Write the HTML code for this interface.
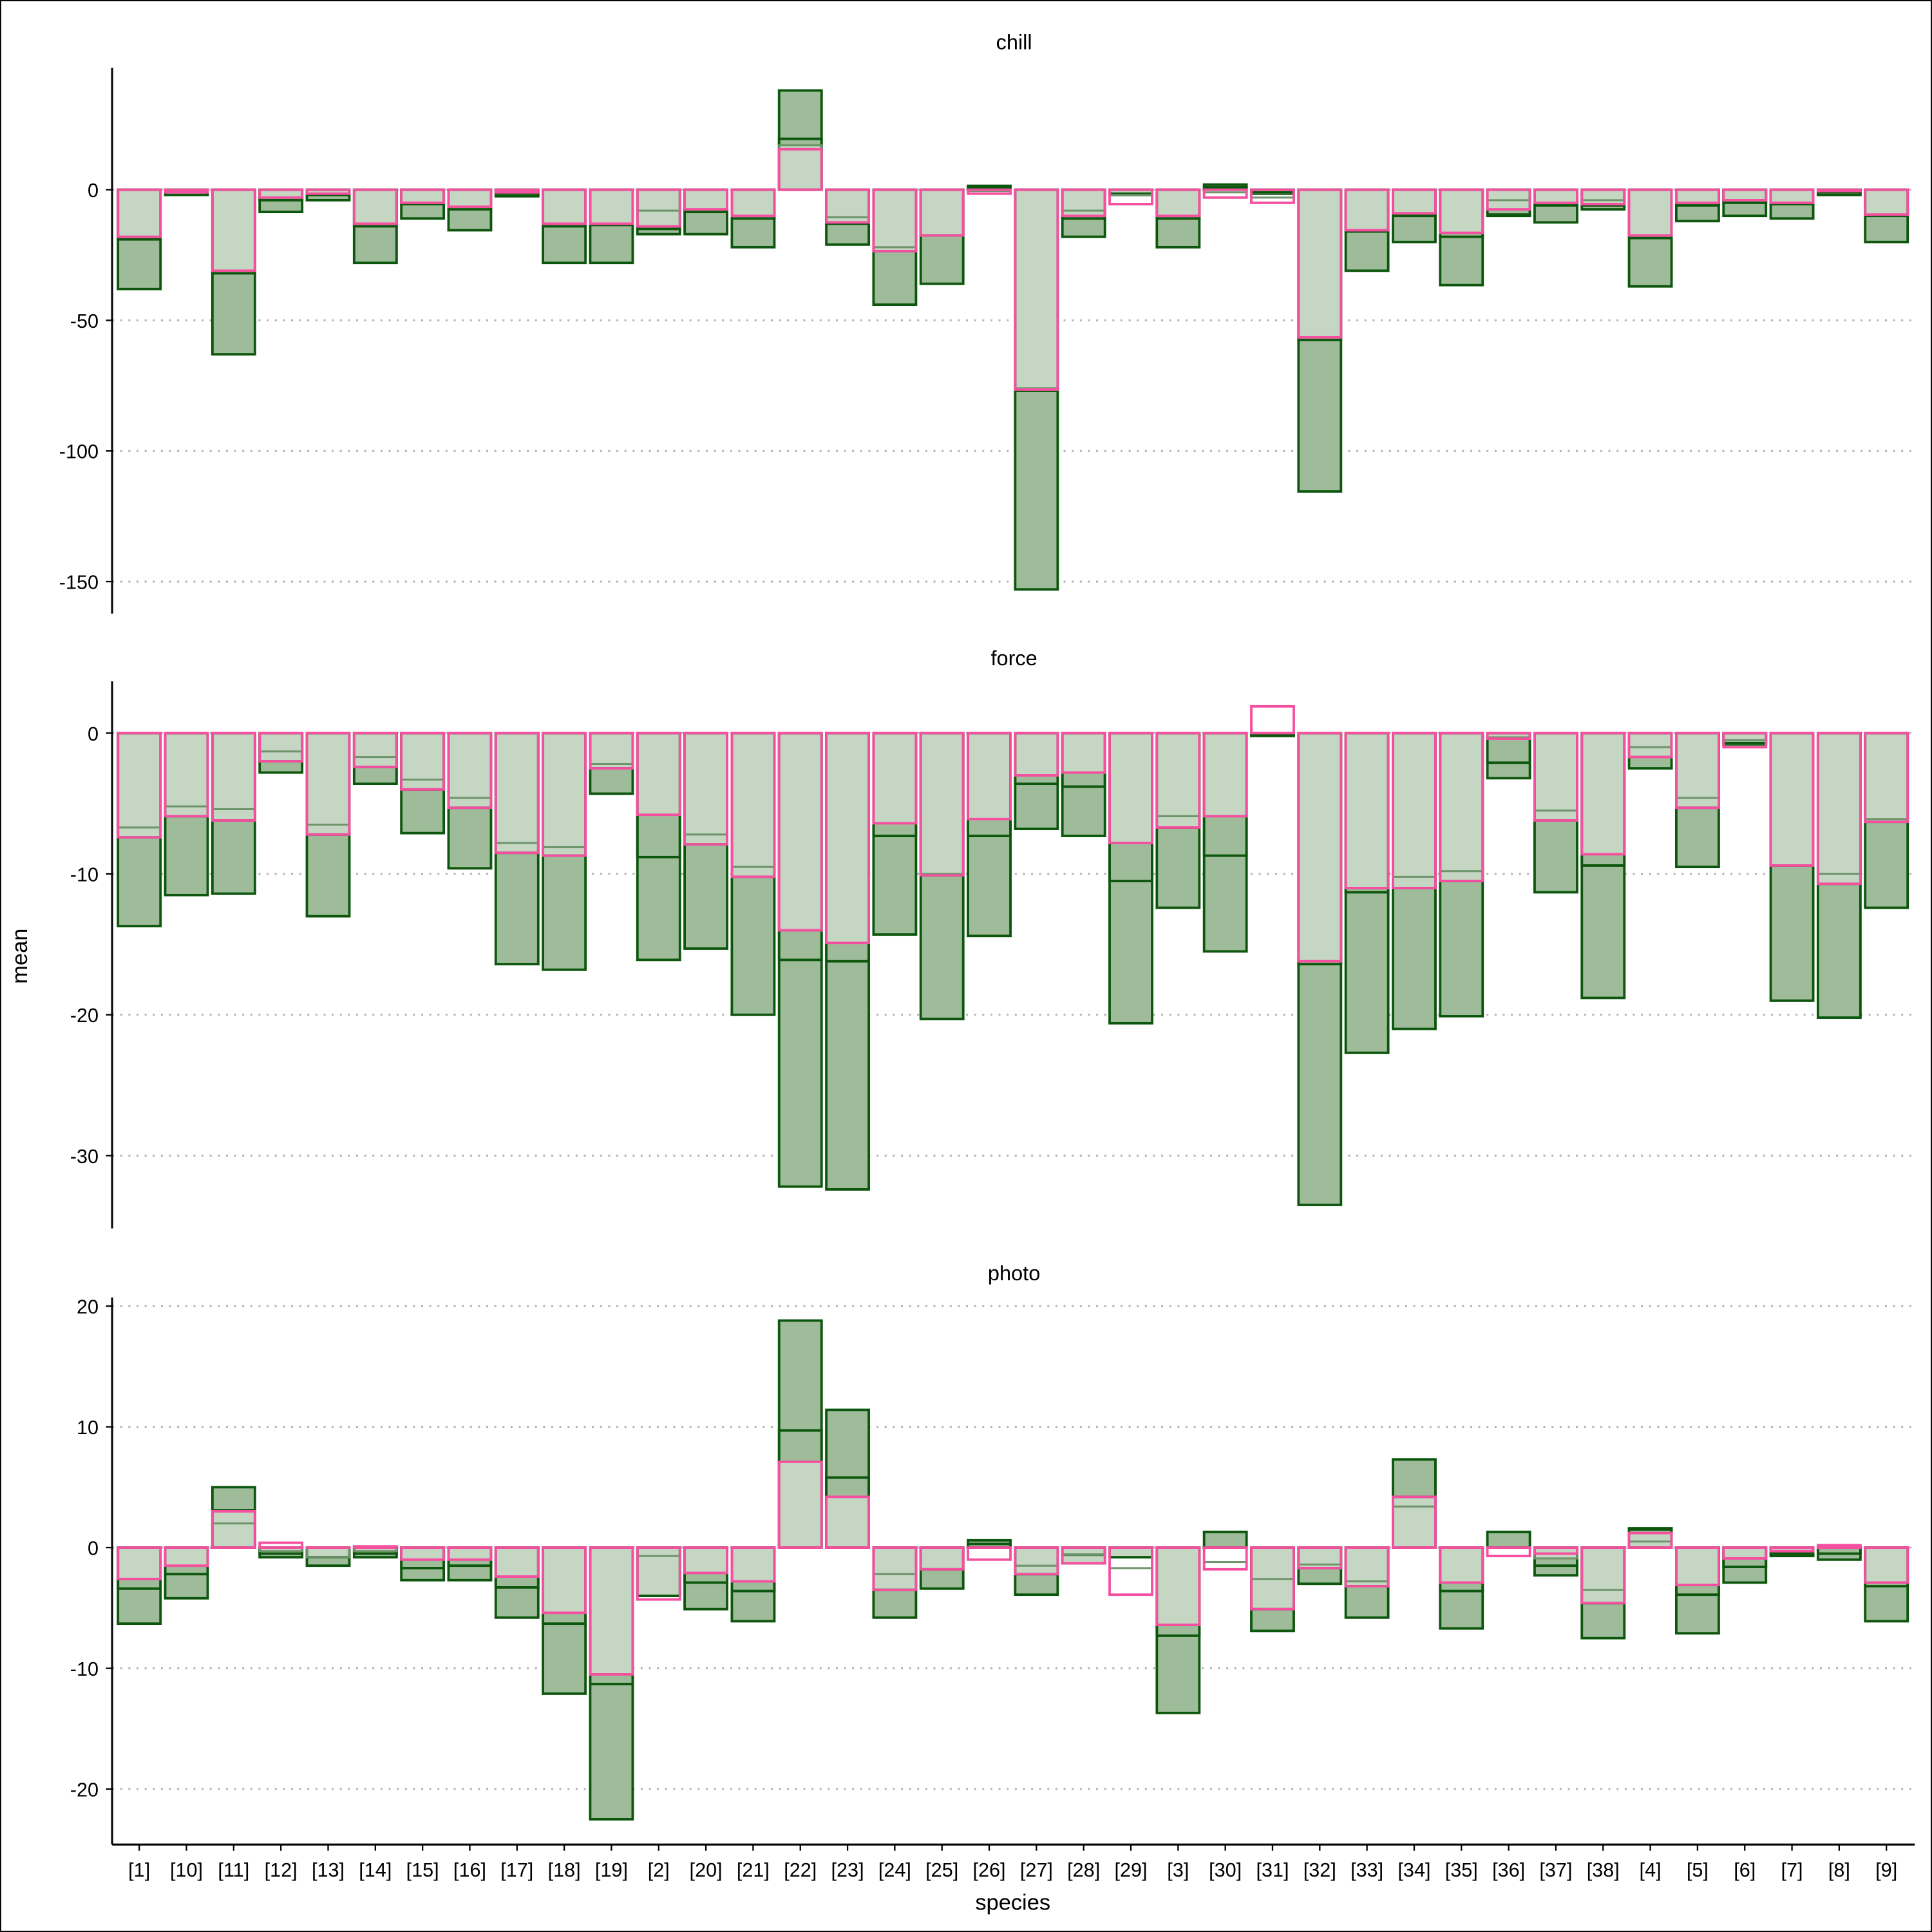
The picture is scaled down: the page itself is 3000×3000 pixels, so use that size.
<!DOCTYPE html>
<html><head><meta charset="utf-8"><style>
html,body{margin:0;padding:0;background:#fff}
svg{display:block}
text{font-family:"Liberation Sans",Arial,sans-serif;fill:#000}
</style></head><body>
<svg id="chart" width="3000" height="3000" viewBox="0 0 1568 1568" xmlns="http://www.w3.org/2000/svg">
<rect x="0.5" y="0.5" width="1567" height="1567" fill="#fff" stroke="#000" stroke-width="1"/>
<g id="plot"></g>
<text x="22" y="776" font-size="18" text-anchor="middle" transform="rotate(-90 22 776)">mean</text>
<text x="822" y="1550" font-size="18" text-anchor="middle">species</text>
</svg>
<script>
const categories=["[1]","[10]","[11]","[12]","[13]","[14]","[15]","[16]","[17]","[18]","[19]","[2]","[20]","[21]","[22]","[23]","[24]","[25]","[26]","[27]","[28]","[29]","[3]","[30]","[31]","[32]","[33]","[34]","[35]","[36]","[37]","[38]","[4]","[5]","[6]","[7]","[8]","[9]"];
const panelNames=["chill","force","photo"];
// chill
const chillOuter=[-38,-2,-63,-8.5,-4,-28,-11,-15.5,-2.5,-28,-28,-17,-17,-22,38,-21,-44,-36,1.5,-153,-18,-2,-22,2,-1.5,-115.5,-31,-20,-36.5,-10,-12.5,-7.5,-37,-12,-10,-11,-2,-20];
const chillInner=[-19,-1,-32,-4,-2,-14,-5.5,-7.5,-1.5,-14,-13.5,-15,-8.5,-11,19.5,-13,-23.5,-17.5,1,-77,-11,-1.5,-11,1,-1,-57.5,-16,-10,-18,-9.5,-6,-6,-18.5,-6,-5,-5.5,-1,-10];
const chillMid=[-18,-1,-31,-3,-1.5,-13,-5,-6.5,-1,-13,-13,-8,-7.5,-10,17,-10.5,-22,-17.5,-0.5,-76,-8,-2,-10,-1,-3,-56.5,-15.5,-9,-16.5,-4,-5,-4,-17.5,-5,-4,-5,-0.5,-9.5];
const chillPink=[-18,-1,-31,-3,-1.5,-13,-5,-6.5,-1,-13,-13,-14,-7.5,-10,15.5,-12.5,-23.5,-17.5,-1.5,-76.5,-10,-5.5,-10,-3,-5,-56.5,-15.5,-9,-16.5,-7.5,-5,-5.5,-17.5,-5,-4,-5,-0.5,-9.5];
// force
const forceOuter=[-13.7,-11.5,-11.4,-2.8,-13,-3.6,-7.1,-9.6,-16.4,-16.8,-4.3,-16.1,-15.3,-20,-32.2,-32.4,-14.3,-20.3,-14.4,-6.8,-7.3,-20.6,-12.4,-15.5,-0.2,-33.5,-22.7,-21,-20.1,-3.2,-11.3,-18.8,-2.5,-9.5,-0.8,-19,-20.2,-12.4];
const forceInner=[-7.4,-5.9,-6.2,-2,-7.2,-2.4,-4,-5.3,-8.5,-8.7,-2.5,-8.8,-7.9,-10.2,-16.1,-16.2,-7.3,-10.1,-7.3,-3.6,-3.8,-10.5,-6.7,-8.7,-0.1,-16.4,-11.3,-11,-10.5,-2.1,-6.2,-9.4,-1.7,-5.3,-0.7,-9.4,-10.7,-6.3];
const forceMid=[-6.7,-5.2,-5.4,-1.3,-6.5,-1.7,-3.3,-4.6,-7.8,-8.1,-2.2,-5.8,-7.2,-9.5,-14,-14.9,-6.4,-10,-6.1,-3,-2.8,-7.8,-5.9,-5.9,0,-16.2,-11,-10.2,-9.8,-0.3,-5.5,-8.6,-1,-4.6,-0.5,-9.4,-10,-6.1];
const forcePink=[-7.4,-5.9,-6.2,-2,-7.2,-2.4,-4,-5.3,-8.5,-8.7,-2.5,-5.8,-7.9,-10.2,-14,-14.9,-6.4,-10.1,-6.1,-3,-2.8,-7.8,-6.7,-5.9,1.9,-16.2,-11,-11,-10.5,-0.4,-6.2,-8.6,-1.7,-5.3,-1,-9.4,-10.7,-6.3];
// photo
const photoOuter=[-6.3,-4.2,5,-0.8,-1.5,-0.8,-2.7,-2.7,-5.8,-12.1,-22.5,-4,-5.1,-6.1,18.8,11.4,-5.8,-3.4,0.6,-3.9,-1.3,-0.8,-13.7,1.3,-6.9,-3,-5.8,7.3,-6.7,1.3,-2.3,-7.5,1.6,-7.1,-2.9,-0.7,-1,-6.1];
const photoInner=[-3.4,-2.2,3.1,-0.5,-0.8,-0.5,-1.7,-1.5,-3.3,-6.3,-11.3,-4,-2.9,-3.6,9.7,5.8,-3.5,-1.8,0.3,-2.2,-0.6,-0.8,-7.3,0,-5.1,-1.7,-3.2,4.2,-3.6,0,-1.5,-4.6,1.5,-3.9,-1.6,-0.5,-0.5,-3.2];
const photoMid=[-2.6,-1.5,2,-0.3,-0.8,-0.3,-1,-1,-2.4,-5.4,-10.5,-0.7,-2.1,-2.8,7.1,4.2,-2.2,-1.8,0,-1.5,-0.6,-1.7,-6.4,-1.2,-2.6,-1.4,-2.8,3.4,-2.9,0,-0.9,-3.5,0.5,-3.1,-0.9,-0.3,0.2,-2.9];
const photoPink=[-2.6,-1.5,3,0.4,0,0.1,-1,-1,-2.4,-5.4,-10.5,-4.3,-2.1,-2.8,7.1,4.2,-3.5,-1.8,-1,-2.2,-1.3,-3.9,-6.4,-1.8,-5.1,-1.7,-3.2,4.2,-2.9,-0.7,-0.5,-4.6,1.2,-3.1,-0.9,-0.3,0.2,-2.9];
const chillTicks=[0,-50,-100,-150];
const forceTicks=[0,-10,-20,-30];
const photoTicks=[20,10,0,-10,-20];

const NS="http://www.w3.org/2000/svg";
const g=document.getElementById('plot');
function mk(tag,attrs,parent){const e=document.createElementNS(NS,tag);for(const k in attrs)e.setAttribute(k,attrs[k]);(parent||g).appendChild(e);return e;}
const X0=91,X1=1553,step=(1531-113)/37,bw=34.5;
function xPos(i){return 113+i*step;}
const panels=[
 {name:"chill",outer:chillOuter,inner:chillInner,mid:chillMid,pink:chillPink,ticks:chillTicks,y0:154,ppu:2.12,top:55,bot:498,title:34},
 {name:"force",outer:forceOuter,inner:forceInner,mid:forceMid,pink:forcePink,ticks:forceTicks,y0:595,ppu:11.43,top:553,bot:997,title:534},
 {name:"photo",outer:photoOuter,inner:photoInner,mid:photoMid,pink:photoPink,ticks:photoTicks,y0:1256,ppu:9.8,top:1053,bot:1497,title:1033}
];
function rectFor(cx,a,b,yf){const ya=yf(a),yb=yf(b);return {x:cx-bw/2,y:Math.min(ya,yb),width:bw,height:Math.max(Math.abs(ya-yb),0.01)};}
panels.forEach(p=>{
 const yf=v=>p.y0-v*p.ppu;
 const pg=mk('g',{});
 
 
 const t=mk('text',{x:823,y:p.title+6,'font-size':17,'text-anchor':'middle'},pg);t.textContent=p.name;
 
 
 p.ticks.forEach(v=>{
  const gl=mk('line',{x1:X0,x2:X1,y1:yf(v),y2:yf(v),stroke:'#b3b3b3','stroke-width':1.6,'stroke-dasharray':'1.6 5'},pg);
  
  
  const tk=mk('line',{x1:86,x2:X0,y1:yf(v),y2:yf(v),stroke:'#000','stroke-width':1.2},pg);
  
  
  const tl=mk('text',{x:80,y:yf(v)+6,'font-size':16,'text-anchor':'end'},pg);tl.textContent=v;
  
  
 });
 categories.forEach((c,i)=>{
  const cx=xPos(i);
  const bg=mk('g',{},pg);
  
  
  const o=p.outer[i];
  mk('rect',Object.assign(rectFor(cx,0,o,yf),{fill:'#9ebc99',stroke:'#0d560d','stroke-width':2}),bg);
  let lv=Math.max(Math.abs(p.mid[i]),Math.abs(p.pink[i]));
  if(Math.sign(p.pink[i])!==Math.sign(o)&&Math.sign(p.mid[i])!==Math.sign(o)) lv=0;
  lv=Math.min(lv,Math.abs(o))*Math.sign(o);
  if(lv!==0) mk('rect',Object.assign(rectFor(cx,0,lv,yf),{fill:'#c5d6c3',stroke:'none'}),bg);
  mk('rect',Object.assign(rectFor(cx,0,p.inner[i],yf),{fill:'none',stroke:'#0d560d','stroke-width':2}),bg);
  mk('rect',Object.assign(rectFor(cx,0,p.mid[i],yf),{fill:'none',stroke:'#6e946a','stroke-width':1.6}),bg);
  mk('rect',Object.assign(rectFor(cx,0,p.pink[i],yf),{fill:'none',stroke:'#f54fa0','stroke-width':2}),bg);
 });
 const ax=mk('line',{x1:X0,x2:X0,y1:p.top,y2:p.bot,stroke:'#000','stroke-width':1.6},pg);
 
 
});
const xa=mk('line',{x1:X0,x2:X1+1,y1:1497,y2:1497,stroke:'#000','stroke-width':1.6});


categories.forEach((c,i)=>{
 const tk=mk('line',{x1:xPos(i),x2:xPos(i),y1:1497,y2:1502,stroke:'#000','stroke-width':1.2});
 
 
 const tl=mk('text',{x:xPos(i),y:1523,'font-size':16,'text-anchor':'middle'});tl.textContent=c;
 
 
});
</script>
</body></html>
